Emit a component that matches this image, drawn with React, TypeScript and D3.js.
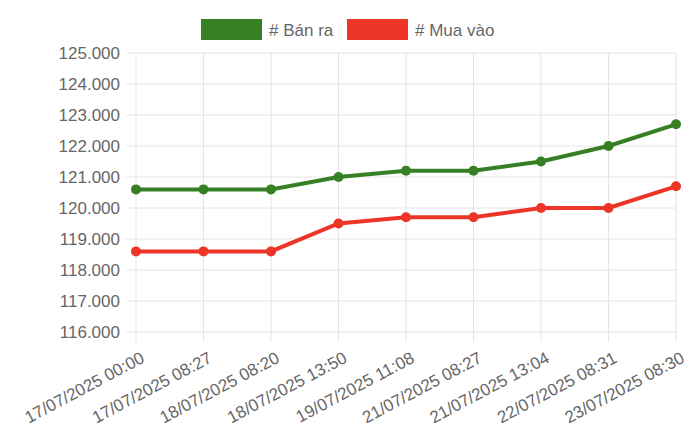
import { useRef, useEffect } from "react";
import * as d3 from "d3";

const labels = [
  "17/07/2025 00:00",
  "17/07/2025 08:27",
  "18/07/2025 08:20",
  "18/07/2025 13:50",
  "19/07/2025 11:08",
  "21/07/2025 08:27",
  "21/07/2025 13:04",
  "22/07/2025 08:31",
  "23/07/2025 08:30",
];
const banRa = [120.6, 120.6, 120.6, 121.0, 121.2, 121.2, 121.5, 122.0, 122.7];
const muaVao = [118.6, 118.6, 118.6, 119.5, 119.7, 119.7, 120.0, 120.0, 120.7];
const yTicks = [116, 117, 118, 119, 120, 121, 122, 123, 124, 125];

const series = [
  { name: "# Bán ra", values: banRa, color: "#367f24" },
  { name: "# Mua vào", values: muaVao, color: "#ec3526" },
];

export default function App() {
  const ref = useRef<SVGSVGElement | null>(null);

  useEffect(() => {
    const svg = d3.select(ref.current);
    svg.selectAll("*").remove();

    const width = 700;
    const height = 440;
    const margin = { top: 53, right: 24, bottom: 108, left: 136 };
    const font = "'Liberation Sans', Arial, sans-serif";

    const x = d3
      .scalePoint()
      .domain(labels)
      .range([margin.left, width - margin.right]);

    const y = d3
      .scaleLinear()
      .domain([116, 125])
      .range([height - margin.bottom, margin.top]);

    const grid = "#e4e4e4";

    // horizontal grid + y labels
    svg
      .append("g")
      .selectAll("line")
      .data(yTicks)
      .join("line")
      .attr("x1", margin.left - 10)
      .attr("x2", width - margin.right)
      .attr("y1", (d) => y(d))
      .attr("y2", (d) => y(d))
      .attr("stroke", grid)
      .attr("stroke-width", 1);

    svg
      .append("g")
      .selectAll("text")
      .data(yTicks)
      .join("text")
      .attr("x", margin.left - 16)
      .attr("y", (d) => y(d))
      .attr("dy", "0.36em")
      .attr("text-anchor", "end")
      .attr("font-family", font)
      .attr("font-size", 17)
      .attr("fill", "#666")
      .text((d) => d3.format(".3f")(d));

    // vertical grid
    svg
      .append("g")
      .selectAll("line")
      .data(labels)
      .join("line")
      .attr("x1", (d) => x(d)!)
      .attr("x2", (d) => x(d)!)
      .attr("y1", margin.top)
      .attr("y2", height - margin.bottom + 10)
      .attr("stroke", grid)
      .attr("stroke-width", 1);

    // x labels
    svg
      .append("g")
      .selectAll("text")
      .data(labels)
      .join("text")
      .attr(
        "transform",
        (d) => `translate(${x(d)! + 4},${height - margin.bottom + 19}) rotate(-28)`
      )
      .attr("text-anchor", "end")
      .attr("dy", "0.7em")
      .attr("font-family", font)
      .attr("font-size", 17)
      .attr("fill", "#666")
      .text((d) => d);

    // lines
    const line = d3
      .line<number>()
      .x((_, i) => x(labels[i])!)
      .y((d) => y(d));

    series.forEach((s) => {
      svg
        .append("path")
        .datum(s.values)
        .attr("fill", "none")
        .attr("stroke", s.color)
        .attr("stroke-width", 4)
        .attr("d", line);

      svg
        .append("g")
        .selectAll("circle")
        .data(s.values)
        .join("circle")
        .attr("cx", (_, i) => x(labels[i])!)
        .attr("cy", (d) => y(d))
        .attr("r", 5)
        .attr("fill", s.color);
    });

    // legend
    const legendX = [201, 347];
    series.forEach((s, i) => {
      const g = svg.append("g").attr("transform", `translate(${legendX[i]},19)`);
      g.append("rect")
        .attr("width", 61)
        .attr("height", 21)
        .attr("fill", s.color);
      g.append("text")
        .attr("x", 68)
        .attr("y", 11)
        .attr("dy", "0.36em")
        .attr("font-family", font)
        .attr("font-size", 17)
        .attr("fill", "#666")
        .text(s.name);
    });
  }, []);

  return (
    <svg
      ref={ref}
      width={700}
      height={440}
      style={{ position: "absolute", left: 0, top: 0 }}
    ></svg>
  );
}
